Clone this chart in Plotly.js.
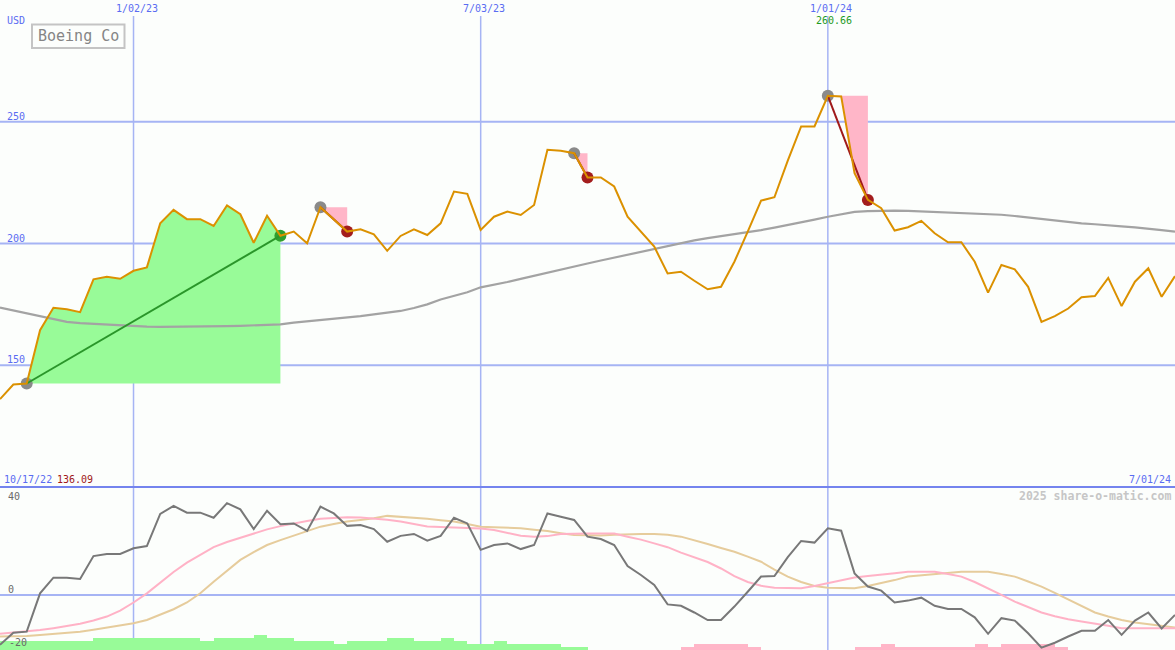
<!DOCTYPE html>
<html>
<head>
<meta charset="utf-8">
<script src="https://cdn.plot.ly/plotly-3.0.1.min.js"></script>
<style>
  html, body { margin: 0; padding: 0; background: #fcfefc; }
  #chart { width: 1175px; height: 650px; }
</style>
</head>
<body>
<div id="chart"></div>
<script>
// Boeing Co, weekly closes in USD
const startWeek = '2022-10-24';
const price = [
  136.09, 142.1, 142.5, 164.4, 173.6, 173.0, 171.8, 185.3, 186.3, 185.5,
  188.8, 190.2, 208.3, 213.8, 210.0, 210.0, 207.2, 215.6, 212.0, 200.3,
  211.4, 203.2, 204.9, 200.1, 214.9, 210.0, 204.9, 205.8, 203.8, 197.0,
  203.1, 205.8, 203.5, 208.3, 221.3, 220.4, 205.6, 211.0, 213.1, 211.7,
  215.8, 238.5, 238.1, 237.1, 227.1, 227.1, 223.4, 211.0, 204.9, 198.7,
  187.7, 188.4, 184.7, 181.2, 182.2, 192.5, 204.9, 217.6, 219.0, 234.0,
  248.1, 248.1, 260.66, 260.4, 228.9, 217.9, 214.5, 205.3, 206.7, 209.3,
  204.2, 200.5, 200.5, 192.5, 179.8, 191.2, 189.4, 182.2, 167.8, 170.2,
  173.3, 177.9, 178.4, 185.9, 174.3, 184.3, 189.8, 178.1, 186.6
];
// long moving average of the close
const movingAvg = [
  173.7, 172.5, 171.2, 169.9, 168.8, 167.8, 167.3, 167.0, 166.7, 166.3,
  166.0, 165.9, 165.8, 165.8, 165.8, 165.9, 166.0, 166.1, 166.2, 166.3,
  166.4, 166.8, 167.5, 168.0, 168.5, 169.2, 169.7, 170.2, 170.9, 171.5,
  172.3, 173.5, 175.0, 177.0, 178.5, 180.0, 182.0, 183.0, 184.2, 185.5,
  186.8, 188.2, 189.4, 190.6, 191.8, 193.0, 194.2, 195.3, 196.5, 197.8,
  199.0, 200.3, 201.3, 202.2, 203.0, 203.8, 204.6, 205.5, 206.5, 207.5,
  208.5, 209.8, 211.0, 212.0, 213.0, 213.3, 213.5, 213.5, 213.4, 213.2,
  213.0, 212.7, 212.4, 212.2, 212.0, 211.8, 211.3, 210.7, 210.0, 209.4,
  208.7, 208.3, 207.9, 207.6, 207.0, 206.6, 206.2, 205.5, 204.9
];
// momentum oscillator and its two signal lines
const momentum = [
  -18.5, -14.0, -13.6, 0.6, 6.4, 6.4, 5.9, 14.4, 15.2, 15.2,
  17.3, 18.1, 30.0, 33.0, 30.5, 30.5, 28.6, 34.0, 31.7, 24.4,
  31.2, 26.2, 26.5, 23.7, 32.7, 30.2, 25.6, 25.9, 24.4, 19.7,
  21.9, 22.6, 20.1, 21.9, 28.6, 26.5, 16.7, 18.5, 19.1, 17.0,
  18.5, 30.2, 29.0, 27.8, 21.6, 20.7, 18.5, 10.7, 7.4, 3.7,
  -3.5, -4.0, -6.5, -9.3, -9.3, -4.3, 1.2, 6.8, 7.0, 14.0,
  20.0, 19.4, 24.7, 23.8, 8.0, 3.1, 1.6, -2.8, -2.1, -1.0,
  -4.0, -5.2, -5.2, -8.3, -14.4, -8.6, -9.5, -14.2, -19.5, -17.7,
  -15.4, -13.3, -13.3, -9.3, -14.8, -9.5, -6.5, -12.4, -7.4
];
const signalFast = [
  -14.4, -14.0, -13.6, -13.0, -12.3, -11.5, -10.7, -9.5, -8.0, -5.8,
  -2.8, 0.6, 4.5, 8.5, 12.0, 15.0, 17.7, 19.6, 21.2, 22.6,
  24.3, 25.5, 26.5, 27.4, 28.2, 28.6, 28.8, 28.7, 28.4, 27.9,
  27.2, 26.3, 25.4, 25.2, 25.0, 24.9, 24.6, 24.1, 23.0, 21.9,
  21.6, 21.8, 22.6, 22.8, 22.8, 22.8, 22.8, 21.6, 20.5, 19.1,
  17.7, 15.7, 14.0, 12.2, 9.8, 7.0, 4.8, 3.4, 2.7, 2.5,
  2.5, 3.3, 4.3, 5.4, 6.5, 7.0, 7.4, 8.0, 8.6, 8.6,
  8.6, 7.8, 6.8, 4.8, 2.5, 0.0, -2.5, -4.6, -6.5, -7.9,
  -9.0, -9.8, -10.5, -11.4, -12.3, -12.3, -12.3, -12.3, -12.3
];
const signalSlow = [
  -15.4, -15.3, -15.2, -14.8, -14.4, -14.0, -13.6, -12.9, -12.1, -11.3,
  -10.5, -9.3, -7.4, -5.3, -2.8, 0.6, 4.9, 9.0, 13.0, 15.9,
  18.5, 20.3, 21.9, 23.7, 25.3, 26.3, 27.2, 27.8, 28.4, 29.3,
  29.0, 28.7, 28.2, 27.7, 27.2, 26.3, 25.3, 25.1, 24.9, 24.7,
  24.2, 23.7, 22.9, 22.2, 22.1, 22.0, 22.3, 22.5, 22.6, 22.6,
  22.3, 21.6, 20.3, 18.9, 17.4, 16.0, 14.2, 12.3, 9.4, 6.8,
  4.8, 3.3, 2.7, 2.5, 2.5, 3.3, 4.3, 5.5, 6.8, 7.3,
  7.8, 8.2, 8.6, 8.6, 8.6, 7.8, 6.8, 5.0, 3.1, 0.8,
  -1.6, -4.0, -6.5, -8.0, -9.3, -10.2, -10.9, -11.5, -12.1
];
// strength bars (levels) below the oscillator
const barsUp = [
  3, 3, 3, 3, 3, 3, 3, 4, 4, 4,
  4, 4, 4, 4, 4, 3, 4, 4, 4, 5,
  4, 4, 3, 3, 3, 2, 3, 3, 3, 4,
  4, 3, 3, 4, 3, 2, 2, 3, 2, 2,
  2, 2, 1, 1, 0, 0, 0, 0, 0, 0,
  0, 0, 0, 0, 0, 0, 0, 0, 0, 0,
  0, 0, 0, 0, 0, 0, 0, 0, 0, 0,
  0, 0, 0, 0, 0, 0, 0, 0, 0, 0,
  0, 0, 0, 0, 0, 0, 0, 0, 0
];
const barsDown = [
  0, 0, 0, 0, 0, 0, 0, 0, 0, 0,
  0, 0, 0, 0, 0, 0, 0, 0, 0, 0,
  0, 0, 0, 0, 0, 0, 0, 0, 0, 0,
  0, 0, 0, 0, 0, 0, 0, 0, 0, 0,
  0, 0, 0, 0, 0, 0, 0, 0, 0, 0,
  0, 1, 2, 2, 2, 2, 1, 0, 0, 0,
  0, 0, 0, 0, 1, 1, 2, 1, 1, 1,
  1, 1, 1, 2, 1, 2, 2, 2, 2, 1,
  0, 0, 0, 0, 0, 0, 0, 0, 0
];
// swing moves: [from week, to week]
const riseMove = [2, 21];
const fallMoves = [[24, 26], [43, 44], [62, 65]];
const monthLines = ['2023-01-02', '2023-07-03', '2024-01-01'];
const monthLabels = ['1/02/23', '7/03/23', '1/01/24'];
const priceGrid = [250, 200, 150];
const priceGridLabels = ['250', '200', '150'];
const oscLabels = ['40', '0', '-20'];

function weekDate(i) {
  const [y, m, d] = startWeek.split('-').map(Number);
  return new Date(Date.UTC(y, m - 1, d + 7 * i)).toISOString().slice(0, 10);
}
const weeks = price.map((_, i) => weekDate(i));
const W = 1175, H = 650;
const px = v => v / W;          // pixel column -> paper x
const py = v => 1 - v / H;      // pixel row -> paper y
const FONT = 'DejaVu Sans Mono, Liberation Mono, monospace';
const BLUE = '#5a6cf2';
const GRID = '#a6b4f4';

const ORANGE = '#db9100';
const UPFILL = '#98fb98';
const DOWNFILL = '#ffb6c8';

const traces = [];
const span = (a, b) => weeks.slice(a, b + 1);

// green fill under the rise, above the starting level
{
  const [a, b] = riseMove;
  traces.push({ x: span(a, b), y: span(a, b).map(() => price[a]), mode: 'lines',
    line: { width: 0 }, hoverinfo: 'skip', showlegend: false });
  traces.push({ x: span(a, b), y: price.slice(a, b + 1), mode: 'lines', fill: 'tonexty',
    fillcolor: UPFILL, line: { width: 0 }, hoverinfo: 'skip', showlegend: false });
}
// pink fill between the high and the falling price
fallMoves.forEach(([a, b]) => {
  traces.push({ x: span(a, b), y: span(a, b).map(() => price[a]), mode: 'lines',
    line: { width: 0 }, hoverinfo: 'skip', showlegend: false });
  traces.push({ x: span(a, b), y: price.slice(a, b + 1), mode: 'lines', fill: 'tonexty',
    fillcolor: DOWNFILL, line: { width: 0 }, hoverinfo: 'skip', showlegend: false });
});

// moving average
traces.push({ x: weeks, y: movingAvg, mode: 'lines', line: { color: '#a3a3a3', width: 2.2 },
  hoverinfo: 'skip', showlegend: false });

// start / end markers
const startIdx = [riseMove[0]].concat(fallMoves.map(m => m[0]));
traces.push({ x: startIdx.map(i => weeks[i]), y: startIdx.map(i => price[i]), mode: 'markers',
  marker: { color: '#8a8a8a', size: 12, line: { width: 0 } }, hoverinfo: 'skip', showlegend: false });
traces.push({ x: [weeks[riseMove[1]]], y: [price[riseMove[1]]], mode: 'markers',
  marker: { color: '#2f9f2f', size: 12, line: { width: 0 } }, hoverinfo: 'skip', showlegend: false });
traces.push({ x: fallMoves.map(m => weeks[m[1]]), y: fallMoves.map(m => price[m[1]]), mode: 'markers',
  marker: { color: '#a31d1d', size: 12, line: { width: 0 } }, hoverinfo: 'skip', showlegend: false });

// straight lines joining start and end of each move
traces.push({ x: [weeks[riseMove[0]], weeks[riseMove[1]]], y: [price[riseMove[0]], price[riseMove[1]]],
  mode: 'lines', line: { color: '#2a962a', width: 2 }, hoverinfo: 'skip', showlegend: false });
fallMoves.forEach(([a, b]) => {
  traces.push({ x: [weeks[a], weeks[b]], y: [price[a], price[b]], mode: 'lines',
    line: { color: '#a01a1a', width: 2 }, hoverinfo: 'skip', showlegend: false });
});

// weekly close
traces.push({ x: weeks, y: price, mode: 'lines', line: { color: ORANGE, width: 2 },
  hoverinfo: 'skip', showlegend: false });

// strength bars in the lower panel
const weekMs = 7 * 24 * 3600 * 1000;
traces.push({ type: 'bar', x: weeks, y: barsUp, xaxis: 'x', yaxis: 'y2', offset: 0, width: weekMs,
  marker: { color: UPFILL, line: { width: 0 } }, hoverinfo: 'skip', showlegend: false });
traces.push({ type: 'bar', x: weeks, y: barsDown, xaxis: 'x', yaxis: 'y2', offset: 0, width: weekMs,
  marker: { color: DOWNFILL, line: { width: 0 } }, hoverinfo: 'skip', showlegend: false });

// oscillator lines
traces.push({ x: weeks, y: signalSlow, xaxis: 'x', yaxis: 'y3', mode: 'lines',
  line: { color: '#e6cc9c', width: 2 }, hoverinfo: 'skip', showlegend: false });
traces.push({ x: weeks, y: signalFast, xaxis: 'x', yaxis: 'y3', mode: 'lines',
  line: { color: '#ffb2c6', width: 2 }, hoverinfo: 'skip', showlegend: false });
traces.push({ x: weeks, y: momentum, xaxis: 'x', yaxis: 'y3', mode: 'lines',
  line: { color: '#787878', width: 2 }, hoverinfo: 'skip', showlegend: false });

const lowerH = 163;
const split = lowerH / H;

const shapes = [];
priceGrid.forEach(v => shapes.push({ type: 'line', xref: 'paper', yref: 'y', x0: 0, x1: 1, y0: v, y1: v,
  line: { color: GRID, width: 2 }, layer: 'below' }));
shapes.push({ type: 'line', xref: 'paper', yref: 'y3', x0: 0, x1: 1, y0: 0, y1: 0,
  line: { color: GRID, width: 2 }, layer: 'below' });
monthLines.forEach(d => shapes.push({ type: 'line', xref: 'x', yref: 'paper', x0: d, x1: d,
  y0: 0, y1: py(16), line: { color: GRID, width: 1.5 }, layer: 'below' }));
shapes.push({ type: 'line', xref: 'paper', yref: 'paper', x0: 0, x1: 1, y0: split, y1: split,
  line: { color: '#7484ee', width: 2 }, layer: 'above' });
// name box
shapes.push({ type: 'rect', xref: 'paper', yref: 'paper', x0: px(32), x1: px(124.5), y0: py(24.5), y1: py(48),
  line: { color: '#c4c4c4', width: 2 }, fillcolor: 'rgba(0,0,0,0)', layer: 'above' });

const ann = [];
function label(text, x, y, color, size, anchor, extra) {
  ann.push(Object.assign({ text, xref: 'paper', yref: 'paper', x: px(x), y: py(y), showarrow: false,
    xanchor: anchor || 'left', yanchor: 'middle', font: { family: FONT, size: size || 10, color } }, extra || {}));
}
label('USD', 5, 20.5, BLUE);
label('Boeing Co', 78.5, 36.5, '#858585', 15, 'center');
const gridPx = [121.75, 243.5, 365.25];
priceGridLabels.forEach((t, k) => label(t, 5, gridPx[k] - 5.5, BLUE));
monthLabels.forEach((t, k) => ann.push({ text: t, xref: 'x', yref: 'paper', x: monthLines[k], y: py(8.5),
  showarrow: false, xanchor: 'center', yanchor: 'middle', xshift: 3,
  font: { family: FONT, size: 10, color: BLUE } }));
// value at the high
const hiIdx = price.indexOf(Math.max(...price));
ann.push({ text: price[hiIdx].toFixed(2), xref: 'x', yref: 'paper', x: weeks[hiIdx], y: py(21),
  showarrow: false, xanchor: 'center', yanchor: 'middle', xshift: 6,
  font: { family: FONT, size: 10, color: '#1f9a1f' } });
label('10/17/22', 1.5, 479, BLUE);
label(price[0].toFixed(2), 55, 479, '#a01818');
label('7/01/24', 1172.5, 479, BLUE, 10, 'right');
label('<b>2025 share-o-matic.com</b>', 1172.5, 496, '#c6c6c6', 11.5, 'right');
const oscPx = [496, 589.5, 642.5];
oscLabels.forEach((t, k) => label(t, t === '-20' ? 7 : 5.5, oscPx[k], '#6a6a6a'));

const layout = {
  width: W, height: H,
  margin: { l: 0, r: 0, t: 0, b: 0, pad: 0 },
  paper_bgcolor: '#fcfefc', plot_bgcolor: '#fcfefc',
  showlegend: false, barmode: 'overlay', bargap: 0,
  xaxis: { type: 'date', range: [weeks[0], weeks[weeks.length - 1]], visible: false, fixedrange: true },
  yaxis: { domain: [split, 1], range: [100, 300], visible: false, fixedrange: true },
  yaxis2: { domain: [0, split], range: [0, lowerH / 3], visible: false, fixedrange: true },
  yaxis3: { overlaying: 'y2', range: [-20.4, 40], visible: false, fixedrange: true },
  shapes, annotations: ann
};

Plotly.newPlot('chart', traces, layout, { displayModeBar: false, staticPlot: true });
</script>
</body>
</html>
